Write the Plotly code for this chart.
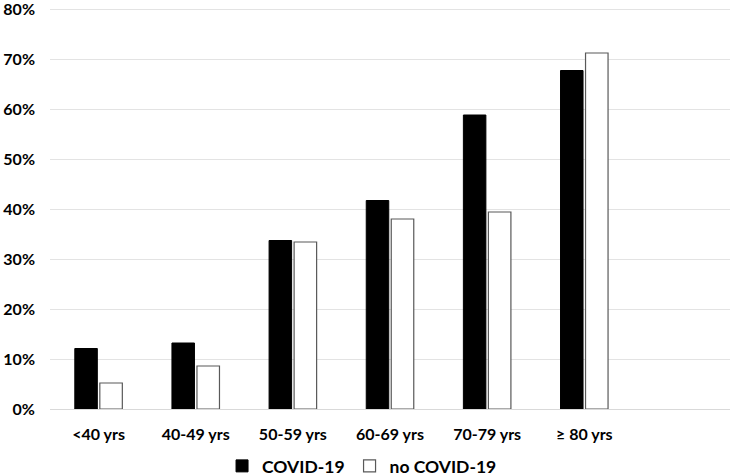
import plotly.graph_objects as go

categories = ["<40 yrs", "40-49 yrs", "50-59 yrs", "60-69 yrs", "70-79 yrs", "≥ 80 yrs", " "]
covid = [12.1, 13.2, 33.7, 41.7, 58.8, 67.7, None]
no_covid = [5.2, 8.6, 33.4, 38.0, 39.4, 71.2, None]
y_ticks = [0, 10, 20, 30, 40, 50, 60, 70, 80]
y_tick_text = ["0%", "10%", "20%", "30%", "40%", "50%", "60%", "70%", "80%"]

font_family = "Lato, 'Open Sans', sans-serif"

fig = go.Figure()
fig.add_trace(go.Bar(
    x=categories, y=covid, name="COVID-19",
    marker=dict(color="#000000", line=dict(color="#000000", width=1)),
))
fig.add_trace(go.Bar(
    x=categories, y=no_covid, name="no COVID-19",
    marker=dict(color="#ffffff", line=dict(color="#595959", width=1.2)),
))

fig.update_layout(
    width=732, height=476,
    margin=dict(l=50, r=2, t=7, b=67, autoexpand=False),
    paper_bgcolor="white", plot_bgcolor="white",
    barmode="group", bargap=0.485, bargroupgap=0.1,
    font=dict(family=font_family, size=16, color="#000000"),
    showlegend=True,
    legend=dict(
        orientation="h", xref="paper", x=0.253, xanchor="left",
        yref="container", y=0.021, yanchor="middle",
        font=dict(family=font_family, size=17.5, color="#000000", weight="bold"),
        itemwidth=30, tracegroupgap=0,
    ),
    xaxis=dict(
        type="category", categoryorder="array", categoryarray=categories,
        range=[-0.5, 6.5], automargin=False,
        showgrid=False, showline=True, linecolor="#d9d9d9", linewidth=1,
        ticks="", ticklabelstandoff=11,
        tickfont=dict(family=font_family, size=16, weight="bold"),
        fixedrange=True,
    ),
    yaxis=dict(
        range=[0, 80.4], tickmode="array", tickvals=y_ticks, ticktext=y_tick_text,
        automargin=False, ticklabeloverflow="allow",
        showgrid=True, gridcolor="#e3e3e3", gridwidth=1,
        zeroline=False, showline=False, ticks="", ticklabelstandoff=14,
        tickfont=dict(family=font_family, size=16, weight="bold"),
        fixedrange=True,
    ),
)

fig.write_html(
    "out.html",
    config={"displayModeBar": False},
    post_script=(
        "document.documentElement.style.margin='0';"
        "document.documentElement.style.overflow='hidden';"
        "document.body.style.margin='0';"
        "document.body.style.overflow='hidden';"
    ),
)
